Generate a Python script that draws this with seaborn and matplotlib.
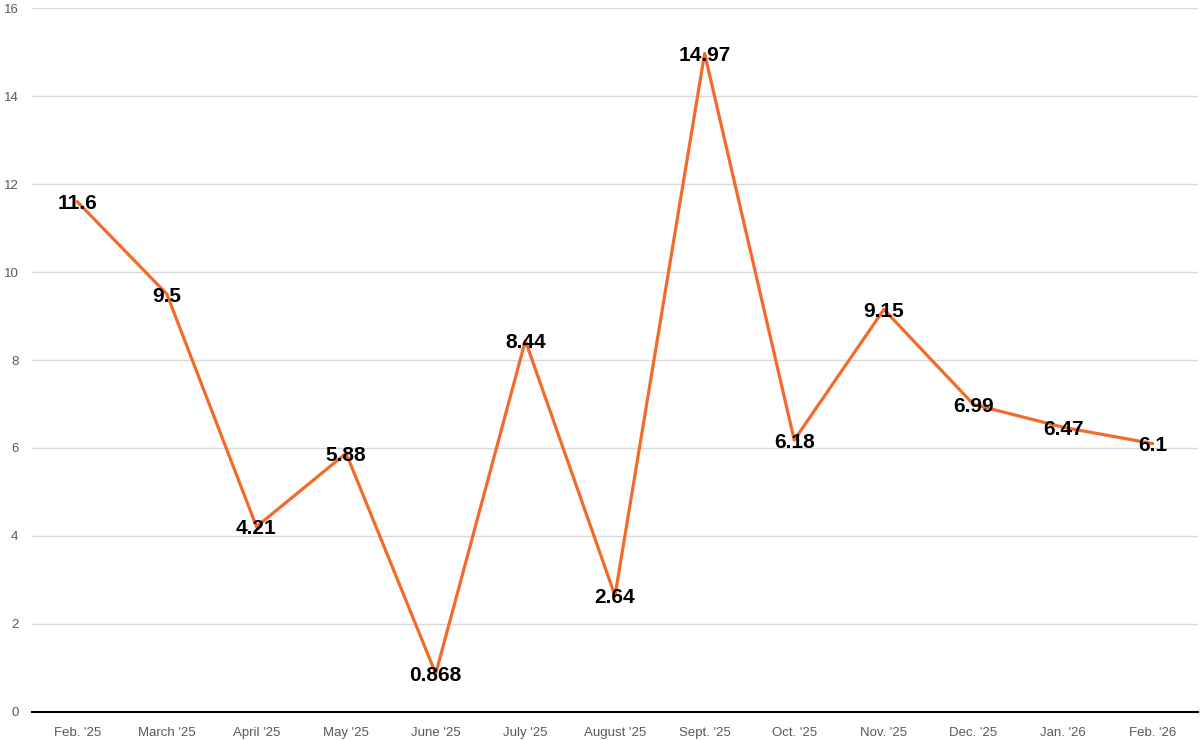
import matplotlib
matplotlib.use('Agg')
import matplotlib.pyplot as plt
import seaborn as sns
import pandas as pd

# Monthly values
months = ["Feb. '25", "March '25", "April '25", "May '25", "June '25", "July '25",
          "August '25", "Sept. '25", "Oct. '25", "Nov. '25", "Dec. '25", "Jan. '26", "Feb. '26"]
values = [11.6, 9.5, 4.21, 5.88, 0.868, 8.44, 2.64, 14.97, 6.18, 9.15, 6.99, 6.47, 6.1]
labels = ["11.6", "9.5", "4.21", "5.88", "0.868", "8.44", "2.64", "14.97", "6.18", "9.15", "6.99", "6.47", "6.1"]
y_ticks = [0, 2, 4, 6, 8, 10, 12, 14, 16]

df = pd.DataFrame({"month": months, "value": values, "pos": range(len(months))})

sns.set_style("white")
plt.rcParams['font.family'] = ['Liberation Sans', 'DejaVu Sans']

fig = plt.figure(figsize=(12, 7.4), dpi=100)
ax = fig.add_axes([0.027, 0.038, 0.971, 0.951])

sns.lineplot(data=df, x="pos", y="value", ax=ax, color="#F26B2A", linewidth=2.3)

for i, (v, lab) in enumerate(zip(values, labels)):
    ax.text(i, v, lab, ha="center", va="center_baseline", fontsize=15,
            fontweight="bold", color="black")

ax.set_xlim(-0.5, len(months) - 0.5)
ax.set_ylim(0, 16)
ax.set_yticks(y_ticks)
ax.set_yticklabels([str(t) for t in y_ticks])
ax.set_xticks(range(len(months)))
ax.set_xticklabels(months)
ax.tick_params(axis="both", length=0, labelsize=9.5, colors="#595959")
ax.tick_params(axis="x", pad=11)
ax.tick_params(axis="y", pad=10)
ax.grid(axis="y", color="#D9D9D9", linewidth=1)
ax.set_axisbelow(True)
ax.set_xlabel("")
ax.set_ylabel("")
for s in ["top", "right", "left"]:
    ax.spines[s].set_visible(False)
ax.spines["bottom"].set_color("black")
ax.spines["bottom"].set_linewidth(1.5)

fig.savefig("out.png", dpi=100)
plt.close(fig)
